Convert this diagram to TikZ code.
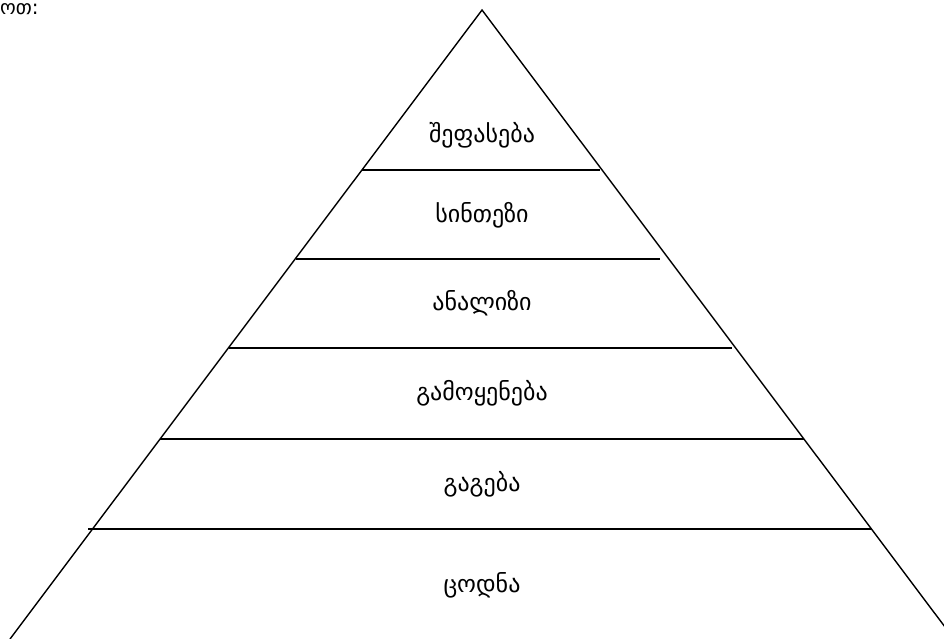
\documentclass[tikz,border=0pt]{standalone}
\usepackage{fontspec}
\setmainfont{DejaVu Sans}
\begin{document}
\begin{tikzpicture}[x=1pt,y=-1pt,every node/.style={font=\fontsize{24}{28}\selectfont},level/.style={line width=1.6pt},edge/.style={line width=1.4pt}]
\clip (0,0) rectangle (944,639);
\coordinate (top) at (482,10);
\coordinate (bl) at (10,639);
\coordinate (br) at (954,639);
\draw[edge] (bl) -- (top) -- (br);
% levels
\draw[level] (362,170) -- (600,170);
\draw[level] (296,259) -- (660,259);
\draw[level] (229,348) -- (732,348);
\draw[level] (160,439) -- (804,439);
\draw[level] (88,529) -- (872,529);
\node (eval) at (482,135) {შეფასება};
\node (synth) at (482,215) {სინთეზი};
\node (anal) at (482,303) {ანალიზი};
\node (apply) at (482,393) {გამოყენება};
\node (under) at (482,484) {გაგება};
\node (know) at (482,585) {ცოდნა};
\node[anchor=west,inner sep=0pt,font=\fontsize{20}{24}\selectfont] (head) at (0,9) {ოთ:};
\end{tikzpicture}
\end{document}
